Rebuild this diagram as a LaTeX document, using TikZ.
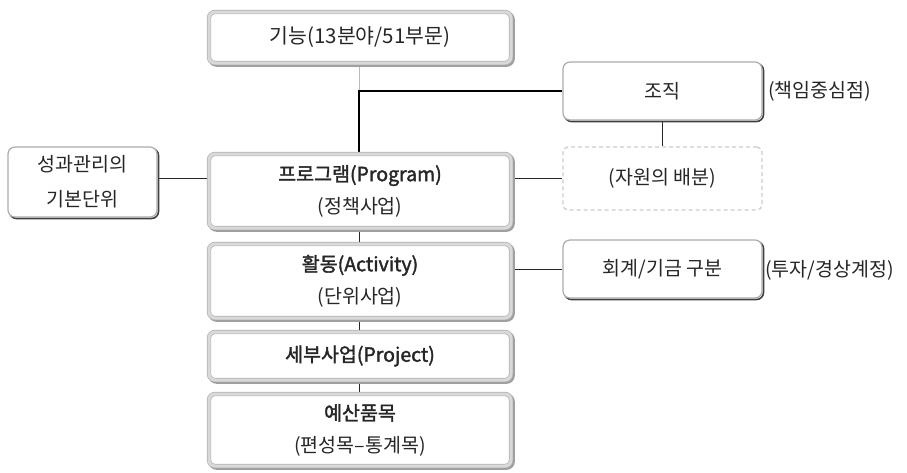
\documentclass[tikz,border=0pt]{standalone}
\usepackage{fontspec}
\setmainfont{Noto Sans CJK KR}[BoldFont={Noto Sans CJK KR}, BoldFeatures={FakeBold=1.8}]
\usetikzlibrary{backgrounds}
\begin{document}
\begin{tikzpicture}[x=1pt,y=-1pt,
  every node/.style={font=\fontsize{19.5}{32}\selectfont, align=center, inner sep=0pt, text=black!85},
  mainbox/.style={rounded corners=6pt, fill=white, draw=gray!60, double=gray!30, double distance=3pt, line width=0.7pt, minimum width=302pt,
    preaction={draw=gray!75, line width=4.4pt, transform canvas={shift={(1.6pt,-1.6pt)}}}},
  smallbox/.style={rounded corners=7pt, fill=white, draw=gray!65, line width=1.2pt,
    preaction={draw=gray!50!black, line width=1.6pt, transform canvas={shift={(1.5pt,-1.5pt)}}}},
  dashbox/.style={rounded corners=5pt, draw=gray!40, line width=1.3pt, dash pattern=on 4pt off 3pt},
  link/.style={draw=gray!30!black, line width=0.9pt},
  strong/.style={draw=black, line width=1.8pt},
  thinlink/.style={draw=gray!55, line width=1pt}]
\useasboundingbox (0,0) rectangle (907,472);
\node[mainbox, minimum height=51pt, font=\fontsize{20.5}{32}\selectfont] (func) at (360,37.5) {기능(13분야/51부문)};
\node[mainbox, minimum height=74pt] (prog) at (360,191) {\textbf{프로그램(Program)}\\(정책사업)};
\node[mainbox, minimum height=74pt] (act) at (360,281) {\textbf{활동(Activity)}\\(단위사업)};
\node[mainbox, minimum height=48pt] (proj) at (360,356) {\textbf{세부사업(Project)}};
\node[mainbox, minimum height=72pt] (budget) at (360,430) {\textbf{예산품목}\\(편성목–통계목)};
\node[smallbox, minimum width=199pt, minimum height=58pt] (org) at (662.5,91) {조직};
\node[dashbox, minimum width=199pt, minimum height=63pt] (alloc) at (662.5,178.5) {(자원의 배분)};
\node[smallbox, minimum width=149pt, minimum height=70pt, font=\fontsize{19.5}{35}\selectfont] (perf) at (82.5,182) {성과관리의\\기본단위};
\node[smallbox, minimum width=199pt, minimum height=58pt] (acct) at (662.5,269) {회계/기금 구분};
\node[anchor=west] (resp) at (768,91) {(책임중심점)};
\node[anchor=west] (inv) at (765,270) {(투자/경상계정)};
\coordinate (jn) at (359,91);
\begin{pgfonlayer}{background}
\draw[thinlink] (func.south -| jn) -- (jn);
\draw[strong] (org.west) -- (jn) -- (prog.north -| jn);
\draw[link] ([yshift=4pt]perf.east) -- ([yshift=4pt]perf.east -| prog.west);
\draw[link] (alloc.west -| prog.east) -- (alloc.west);
\draw[link] (acct.west -| act.east) -- (acct.west);
\draw[link] (org.south) -- (alloc.north);
\draw[link] (prog.south -| jn) -- (act.north -| jn);
\draw[link] (act.south -| jn) -- (proj.north -| jn);
\draw[link] (proj.south -| jn) -- (budget.north -| jn);
\end{pgfonlayer}
\end{tikzpicture}
\end{document}
